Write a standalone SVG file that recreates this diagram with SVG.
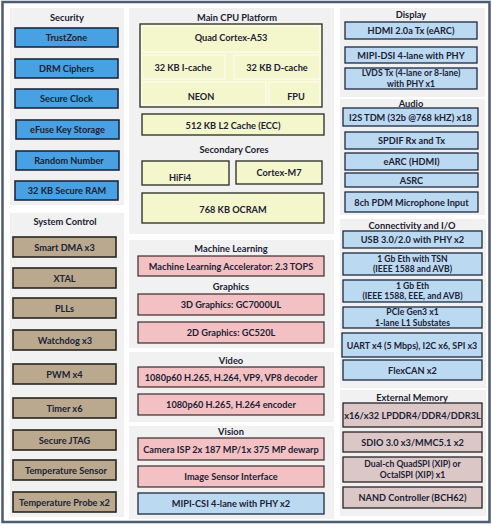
<svg xmlns="http://www.w3.org/2000/svg" width="492" height="526" viewBox="0 0 492 526">
<style>
text{font-family:Lato,"Liberation Sans",sans-serif;fill:#1b2233;text-anchor:middle;dominant-baseline:central}
.t{font-size:9.3px;font-weight:700}
.l{font-size:9.2px;font-weight:700}
.m{font-size:8.6px;font-weight:700}
.p{fill:#f1f1f1}
.sec{fill:#47a1e2;stroke:#1e2a40;stroke-width:1.6}
.sys{fill:#baa98f;stroke:#2a2520;stroke-width:1.6}
.cpu{fill:#f4f6cc;stroke:#2a2a22;stroke-width:1.3}
.cell{fill:#f4f6cc;stroke:#fbfbea;stroke-width:1.5}
.pk{fill:#f3c1c3;stroke:#3a2a2c;stroke-width:1.2}
.lb{fill:#bcd9f2;stroke:#1e2a40;stroke-width:1.3}
.mv{fill:#dcc7c7;stroke:#2a2424;stroke-width:1.3}
</style>
<rect x="2.5" y="2" width="487" height="520" fill="#ffffff" stroke="#4d5b73" stroke-width="2.5"/>

<g id="security">
<rect class="p" x="10" y="8" width="114" height="197"/>
<text class="t" x="67" y="17">Security</text>
<g id="trustzone"><rect class="sec" x="15" y="28" width="103" height="19"/><text class="l" x="66.5" y="37.5">TrustZone</text></g>
<g id="drm"><rect class="sec" x="15" y="59" width="103" height="19"/><text class="l" x="66.5" y="68.5">DRM Ciphers</text></g>
<g id="secure-clock"><rect class="sec" x="15" y="89" width="103" height="19"/><text class="l" x="66.5" y="98.5">Secure Clock</text></g>
<g id="efuse"><rect class="sec" x="16" y="120" width="103" height="19"/><text class="l" x="67.5" y="129.5">eFuse Key Storage</text></g>
<g id="random"><rect class="sec" x="16" y="151" width="103" height="19"/><text class="l" x="69" y="160.5">Random Number</text></g>
<g id="secure-ram"><rect class="sec" x="15" y="181" width="103" height="19"/><text class="l" x="67" y="190.5">32 KB Secure RAM</text></g>
</g>

<g id="system-control">
<rect class="p" x="10" y="213" width="114" height="304"/>
<text class="t" x="65" y="221">System Control</text>
<g id="dma"><rect class="sys" x="13" y="237" width="103" height="20"/><text class="l" x="64.5" y="247">Smart DMA x3</text></g>
<g id="xtal"><rect class="sys" x="13" y="268" width="103" height="20"/><text class="l" x="64.5" y="278">XTAL</text></g>
<g id="plls"><rect class="sys" x="13" y="298" width="103" height="20"/><text class="l" x="64.5" y="308">PLLs</text></g>
<g id="watchdog"><rect class="sys" x="13" y="330" width="103" height="20"/><text class="l" x="65" y="340">Watchdog x3</text></g>
<g id="pwm"><rect class="sys" x="13" y="364" width="103" height="20"/><text class="l" x="64.5" y="374">PWM x4</text></g>
<g id="timer"><rect class="sys" x="13" y="398" width="103" height="20"/><text class="l" x="64.5" y="408">Timer x6</text></g>
<g id="jtag"><rect class="sys" x="13" y="430" width="103" height="20"/><text class="l" x="64.5" y="440">Secure JTAG</text></g>
<g id="temp-sensor"><rect class="sys" x="13" y="460" width="103" height="20"/><text class="l" x="66" y="470">Temperature Sensor</text></g>
<g id="temp-probe"><rect class="sys" x="13" y="492" width="103" height="20"/><text class="l" x="64.5" y="502">Temperature Probe x2</text></g>
</g>

<g id="main-cpu">
<rect class="p" x="129" y="8" width="205" height="226"/>
<text class="t" x="237" y="17">Main CPU Platform</text>
<g id="a53">
<rect class="cpu" x="140" y="24" width="182" height="83"/>
<rect class="cell" x="142" y="26" width="178" height="26"/>
<rect class="cell" x="142" y="55" width="83" height="24"/>
<rect class="cell" x="234" y="55" width="86" height="24"/>
<rect class="cell" x="142" y="82" width="124" height="23"/>
<rect class="cell" x="269" y="82" width="51" height="23"/>
<text class="l" x="231" y="37">Quad Cortex-A53</text>
<text class="l" x="183" y="67">32 KB I-cache</text>
<text class="l" x="277" y="67">32 KB D-cache</text>
<text class="l" x="201" y="96">NEON</text>
<text class="l" x="296" y="96">FPU</text>
</g>
<g id="l2"><rect class="cpu" x="142" y="114" width="182" height="21"/><text class="l" x="233" y="125">512 KB L2 Cache (ECC)</text></g>
<text class="t" x="234" y="149">Secondary Cores</text>
<g id="hifi4"><rect class="cpu" x="142" y="161" width="87" height="24"/><text class="l" x="180" y="177">HiFi4</text></g>
<g id="m7"><rect class="cpu" x="236" y="161" width="86" height="23"/><text class="l" x="279" y="172">Cortex-M7</text></g>
<g id="ocram"><rect class="cpu" x="142" y="193" width="182" height="30"/><text class="l" x="233" y="209">768 KB OCRAM</text></g>
</g>

<g id="machine-learning">
<rect class="p" x="129" y="240" width="205" height="108"/>
<text class="t" x="231" y="248">Machine Learning</text>
<g id="mla"><rect class="pk" x="138" y="256" width="186" height="20"/><text class="l" x="231" y="266">Machine Learning Accelerator: 2.3 TOPS</text></g>
<text class="t" x="231" y="286.5">Graphics</text>
<g id="gpu3d"><rect class="pk" x="138" y="294" width="186" height="21"/><text class="l" x="231" y="304.5">3D Graphics: GC7000UL</text></g>
<g id="gpu2d"><rect class="pk" x="138" y="322" width="186" height="21"/><text class="l" x="231" y="332.5">2D Graphics: GC520L</text></g>
</g>

<g id="video">
<rect class="p" x="129" y="352" width="205" height="70"/>
<text class="t" x="231" y="360.5">Video</text>
<g id="decoder"><rect class="pk" x="138" y="367" width="186" height="20"/><text class="l" x="231" y="377">1080p60 H.265, H.264, VP9, VP8 decoder</text></g>
<g id="encoder"><rect class="pk" x="138" y="394" width="186" height="21"/><text class="l" x="231" y="404.5">1080p60 H.265, H.264 encoder</text></g>
</g>

<g id="vision">
<rect class="p" x="129" y="426" width="205" height="93"/>
<text class="t" x="231" y="431.5">Vision</text>
<g id="isp"><rect class="pk" x="138" y="438" width="186" height="22"/><text class="l" x="231" y="449">Camera ISP 2x 187 MP/1x 375 MP dewarp</text></g>
<g id="isi"><rect class="pk" x="138" y="466" width="186" height="21"/><text class="l" x="231" y="476.5">Image Sensor Interface</text></g>
<g id="mipi-csi"><rect class="lb" x="138" y="493" width="186" height="21"/><text class="l" x="231" y="503.5">MIPI-CSI 4-lane with PHY x2</text></g>
</g>

<g id="display">
<rect class="p" x="340" y="8" width="145" height="89"/>
<text class="t" x="411" y="14.5">Display</text>
<g id="hdmi"><rect class="lb" x="345" y="22" width="132" height="17"/><text class="l" x="411" y="30.5">HDMI 2.0a  Tx (eARC)</text></g>
<g id="mipi-dsi"><rect class="lb" x="345" y="47" width="132" height="16"/><text class="l" x="411" y="55">MIPI-DSI 4-lane with PHY</text></g>
<g id="lvds"><rect class="lb" x="345" y="68" width="132" height="21"/><text class="m" x="411" y="73.3">LVDS Tx (4-lane or 8-lane)</text><text class="m" x="411" y="83.7">with PHY x1</text></g>
</g>

<g id="audio">
<rect class="p" x="340" y="99" width="145" height="116"/>
<text class="t" x="411" y="103.5">Audio</text>
<g id="i2s"><rect class="lb" x="343" y="108" width="135" height="18"/><text class="l" x="410.5" y="117">I2S TDM (32b @768 kHZ) x18</text></g>
<g id="spdif"><rect class="lb" x="345" y="132" width="133" height="17"/><text class="l" x="411.5" y="140.5">SPDIF Rx and Tx</text></g>
<g id="earc"><rect class="lb" x="345" y="153" width="133" height="17"/><text class="l" x="411.5" y="161.5">eARC (HDMI)</text></g>
<g id="asrc"><rect class="lb" x="345" y="173" width="133" height="14"/><text class="l" x="411.5" y="180">ASRC</text></g>
<g id="pdm"><rect class="lb" x="345" y="192" width="133" height="20"/><text class="l" x="411.5" y="202">8ch PDM Microphone Input</text></g>
</g>

<g id="connectivity">
<rect class="p" x="340" y="219" width="146" height="169"/>
<text class="t" x="412" y="225.5">Connectivity and I/O</text>
<g id="usb"><rect class="lb" x="343" y="231" width="139" height="17"/><text class="l" x="412.5" y="239.5">USB 3.0/2.0 with PHY x2</text></g>
<g id="eth-tsn"><rect class="lb" x="343" y="253" width="139" height="22"/><text class="m" x="412.5" y="258.8">1 Gb Eth with TSN</text><text class="m" x="412.5" y="269.2">(IEEE 1588 and AVB)</text></g>
<g id="eth"><rect class="lb" x="343" y="280" width="139" height="22"/><text class="m" x="412.5" y="285.8">1 Gb Eth</text><text class="m" x="412.5" y="296.2">(IEEE 1588, EEE, and AVB)</text></g>
<g id="pcie"><rect class="lb" x="343" y="307" width="139" height="21"/><text class="m" x="412.5" y="312.3">PCIe Gen3 x1</text><text class="m" x="412.5" y="322.7">1-lane L1 Substates</text></g>
<g id="uart"><rect class="lb" x="342" y="333" width="140" height="24"/><text class="l" x="412" y="345" style="font-size:8.9px">UART x4 (5 Mbps), I2C x6, SPI x3</text></g>
<g id="flexcan"><rect class="lb" x="343" y="360" width="139" height="20"/><text class="l" x="412.5" y="370">FlexCAN x2</text></g>
</g>

<g id="external-memory">
<rect class="p" x="340" y="390" width="146" height="126"/>
<text class="t" x="412" y="397">External Memory</text>
<g id="ddr"><rect class="mv" x="343" y="403" width="139" height="24"/><text class="l" x="412.5" y="415">x16/x32 LPDDR4/DDR4/DDR3L</text></g>
<g id="sdio"><rect class="mv" x="343" y="432" width="139" height="20"/><text class="l" x="412.5" y="442">SDIO 3.0 x3/MMC5.1 x2</text></g>
<g id="qspi"><rect class="mv" x="343" y="457" width="139" height="25"/><text class="m" x="412.5" y="464.3">Dual-ch QuadSPI (XIP) or</text><text class="m" x="412.5" y="474.7">OctalSPI (XIP) x1</text></g>
<g id="nand"><rect class="mv" x="343" y="487" width="139" height="21"/><text class="l" x="412.5" y="497.5">NAND Controller (BCH62)</text></g>
</g>
</svg>
